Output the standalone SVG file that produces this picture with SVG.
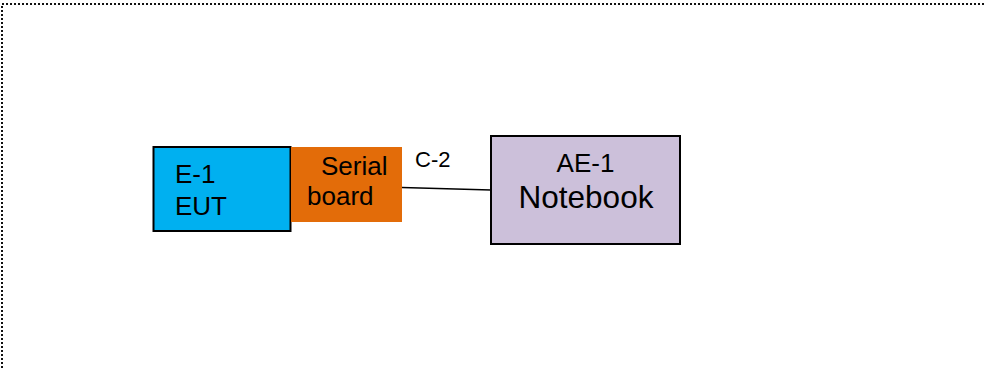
<svg xmlns="http://www.w3.org/2000/svg" width="986" height="368" viewBox="0 0 986 368">
<style>
  .lbl { font-family: "Liberation Sans", Arial, sans-serif; fill: #000; }
  .box { stroke: #000; stroke-width: 2; }
  .frame { fill: none; stroke: #111; stroke-width: 2; stroke-dasharray: 2 2; }
  .conn { fill: none; stroke: #000; stroke-width: 1.6; }
</style>
<rect width="986" height="368" fill="#fff"/>
<path class="frame" d="M2,368 V4 H986"/>
<g id="connectors">
  <line class="conn" x1="402" y1="187.5" x2="491" y2="190"/>
  <text class="lbl" x="415" y="166.5" font-size="22">C-2</text>
</g>
<g id="node-eut">
  <rect class="box" x="153.5" y="147" width="137" height="84" fill="#00B0F0"/>
  <text class="lbl" x="175" y="183" font-size="26">E-1</text>
  <text class="lbl" x="175" y="215" font-size="26">EUT</text>
</g>
<g id="node-serial">
  <rect x="291" y="147" width="111" height="75" fill="#E36C09"/>
  <text class="lbl" x="321" y="175" font-size="26">Serial</text>
  <text class="lbl" x="307" y="205" font-size="26">board</text>
</g>
<g id="node-notebook">
  <rect class="box" x="491" y="136" width="189" height="108" fill="#CCC0DA"/>
  <text class="lbl" x="585.5" y="172" font-size="26" text-anchor="middle">AE-1</text>
  <text class="lbl" x="586" y="208" font-size="31.5" text-anchor="middle">Notebook</text>
</g>
</svg>
